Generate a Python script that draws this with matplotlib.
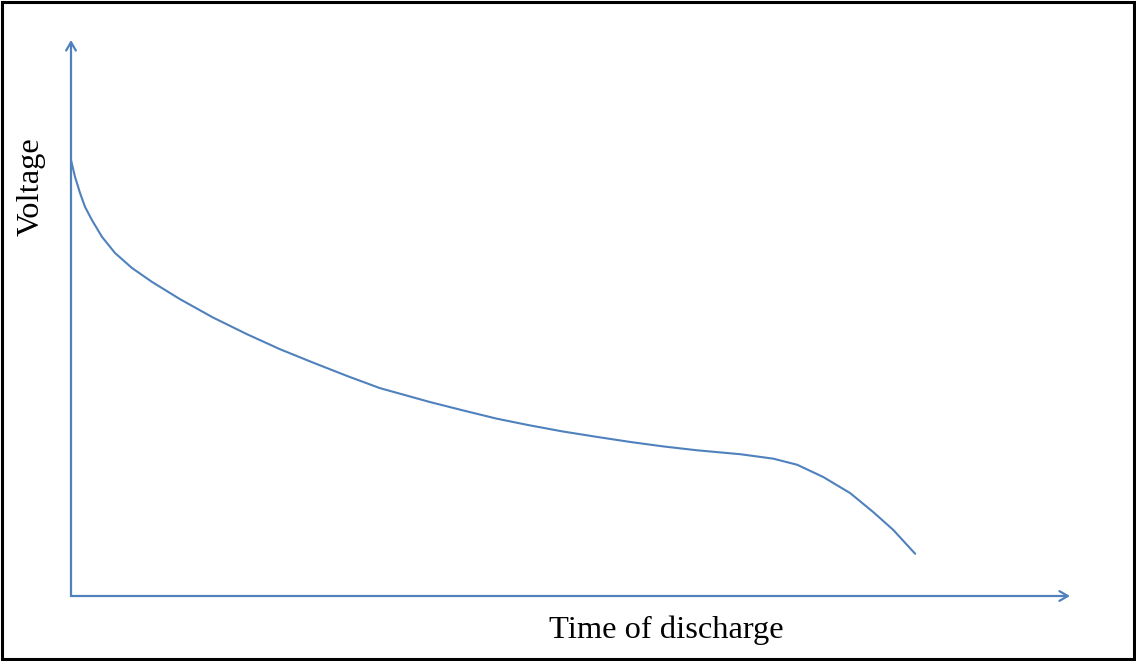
import matplotlib.pyplot as plt
from matplotlib.patches import Rectangle

# Discharge curve (arbitrary units, axes run 0..100)
time = [0, 0.4, 0.9, 1.4, 2.1, 3.1, 4.4, 6.1, 8.1, 10.9, 14.2, 17.6, 20.9,
        24.2, 27.6, 30.9, 35.9, 39.2, 42.6, 45.9, 49.2, 52.7, 56.0, 59.3,
        62.7, 67.0, 70.3, 72.7, 75.3, 78.0, 80.3, 82.3, 84.5]
voltage = [78.4, 75.4, 72.5, 70.0, 67.6, 64.6, 61.7, 59.0, 56.5, 53.4, 50.1, 47.1, 44.4,
           42.0, 39.6, 37.4, 34.9, 33.4, 31.9, 30.7, 29.6, 28.6, 27.7, 26.9,
           26.2, 25.5, 24.7, 23.6, 21.4, 18.5, 15.1, 11.9, 7.6]

x_label = "Time of discharge"
y_label = "Voltage"

blue = "#4F81BD"
W, H = 1136, 661

fig = plt.figure(figsize=(W / 100, H / 100), dpi=100)
ax = fig.add_axes([71 / W, (H - 596) / H, (1070 - 71) / W, (596 - 40) / H])
ax.set_xlim(0, 100)
ax.set_ylim(0, 100)
ax.axis("off")

# axes drawn as arrows
arrow = dict(arrowstyle="->, head_length=0.6, head_width=0.35", color=blue,
             lw=1.6, shrinkA=0, shrinkB=0)
ax.annotate("", xy=(100, 0), xytext=(0, 0), arrowprops=arrow, annotation_clip=False)
ax.annotate("", xy=(0, 100), xytext=(0, 0), arrowprops=arrow, annotation_clip=False)

ax.plot(time, voltage, color=blue, lw=1.5, solid_capstyle="round",
        solid_joinstyle="round")

font = dict(family=["Liberation Serif", "DejaVu Serif"], fontsize=23.4, color="black")
fig.text(666 / W, 1 - 630 / H, x_label, ha="center", va="center", **font)
fig.text(31 / W, 1 - 187 / H, y_label, ha="center", va="center", rotation=90, **font)

# black frame round the picture
fig.add_artist(Rectangle((1.5 / W, 2.5 / H), 1 - 4 / W, 1 - 4.5 / H,
                         transform=fig.transFigure, fill=False,
                         edgecolor="black", lw=2.2))

fig.savefig("out.png", dpi=100, facecolor="white")
